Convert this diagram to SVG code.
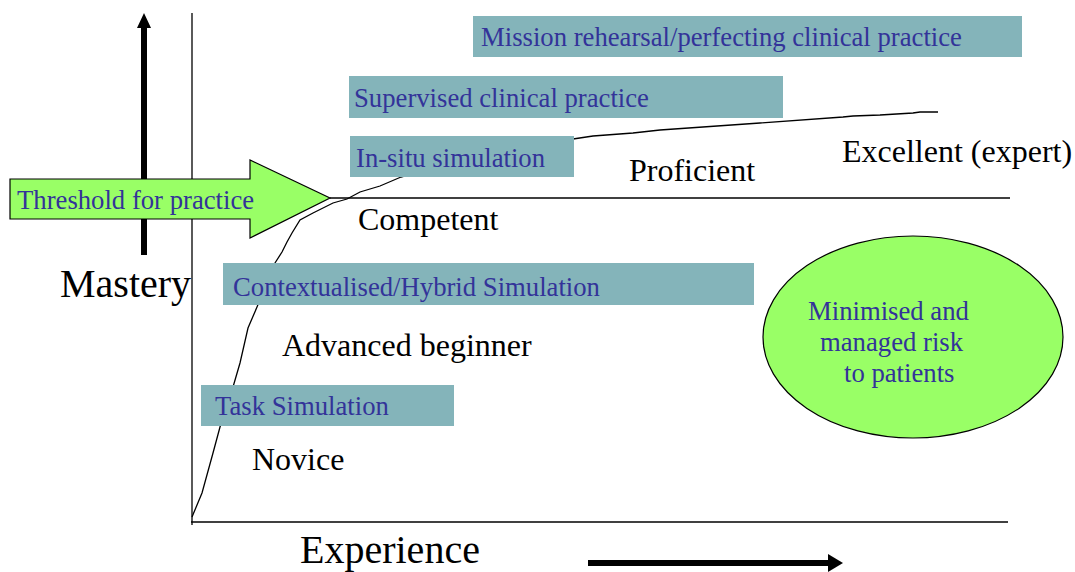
<svg xmlns="http://www.w3.org/2000/svg" width="1075" height="572" viewBox="0 0 1075 572">
<style>
.box{fill:#84B4BA;}
.bt{font-size:26.7px;fill:#333399;}
.lbl{font-size:32px;fill:#000;}
.ax{font-size:40px;fill:#000;}
.thin{stroke:#000;stroke-width:1.3;fill:none;}
</style>
<rect width="1075" height="572" fill="#fff"/>
<g id="connectors">
<line class="thin" x1="192" y1="13" x2="192" y2="525" stroke="#555"/>
<line class="thin" x1="191" y1="522" x2="1008" y2="522"/>
<line class="thin" x1="330" y1="198" x2="1010" y2="198"/>
<path class="thin" d="M192,517 L202,493 L213,453 L220,427 L233,387 L240,363 L248,328 L257,307 L275,263 L282,252 L287,242 L292,233 L300,220 L313,213 L333,203 L347,199 L360,192 L380,186 L401,177 L480,155 L573,139 L593,136 L633,133 L660,130 L760,123 L843,117 L853,116 L880,115 L913,113 L920,112 L938,112"/>
<rect x="141" y="27" width="6" height="228" fill="#000"/>
<polygon points="144,13 137,28 151,28" fill="#000"/>
<rect x="588" y="560" width="242" height="6" fill="#000"/>
<polygon points="843,563 828,554 828,572" fill="#000"/>
</g>
<g font-family="Liberation Serif, DejaVu Serif, serif">
<g id="mission"><rect class="box" x="473" y="16" width="549" height="41"/><text class="bt" x="481" y="46">Mission rehearsal/perfecting clinical practice</text></g>
<g id="supervised"><rect class="box" x="349" y="76" width="434" height="42"/><text class="bt" x="354" y="107">Supervised clinical practice</text></g>
<g id="insitu"><rect class="box" x="350" y="136" width="224" height="41"/><text class="bt" x="356" y="167">In-situ simulation</text></g>
<g id="contextual"><rect class="box" x="223" y="263" width="531" height="42"/><text class="bt" x="233" y="296">Contextualised/Hybrid Simulation</text></g>
<g id="task"><rect class="box" x="201" y="385" width="253" height="41"/><text class="bt" x="215" y="415">Task Simulation</text></g>
<g id="threshold"><polygon points="10,179 250,179 250,160 330,198 250,238 250,219 10,219" fill="#99FF66" stroke="#000" stroke-width="1.2"/><text class="bt" x="17" y="209">Threshold for practice</text></g>
<g id="risk"><ellipse cx="913" cy="337" rx="150" ry="101" fill="#99FF66" stroke="#000" stroke-width="1.2"/><text class="bt" x="808" y="320">Minimised and</text><text class="bt" x="820" y="351">managed risk</text><text class="bt" x="844" y="382">to patients</text></g>
<g id="labels">
<text class="lbl" x="629" y="181">Proficient</text>
<text class="lbl" x="842" y="162">Excellent (expert)</text>
<text class="lbl" x="358" y="230">Competent</text>
<text class="lbl" x="282" y="356">Advanced beginner</text>
<text class="lbl" x="252" y="470">Novice</text>
<text class="ax" x="60" y="297">Mastery</text>
<text class="ax" x="300" y="563">Experience</text>
</g>
</g>
</svg>
